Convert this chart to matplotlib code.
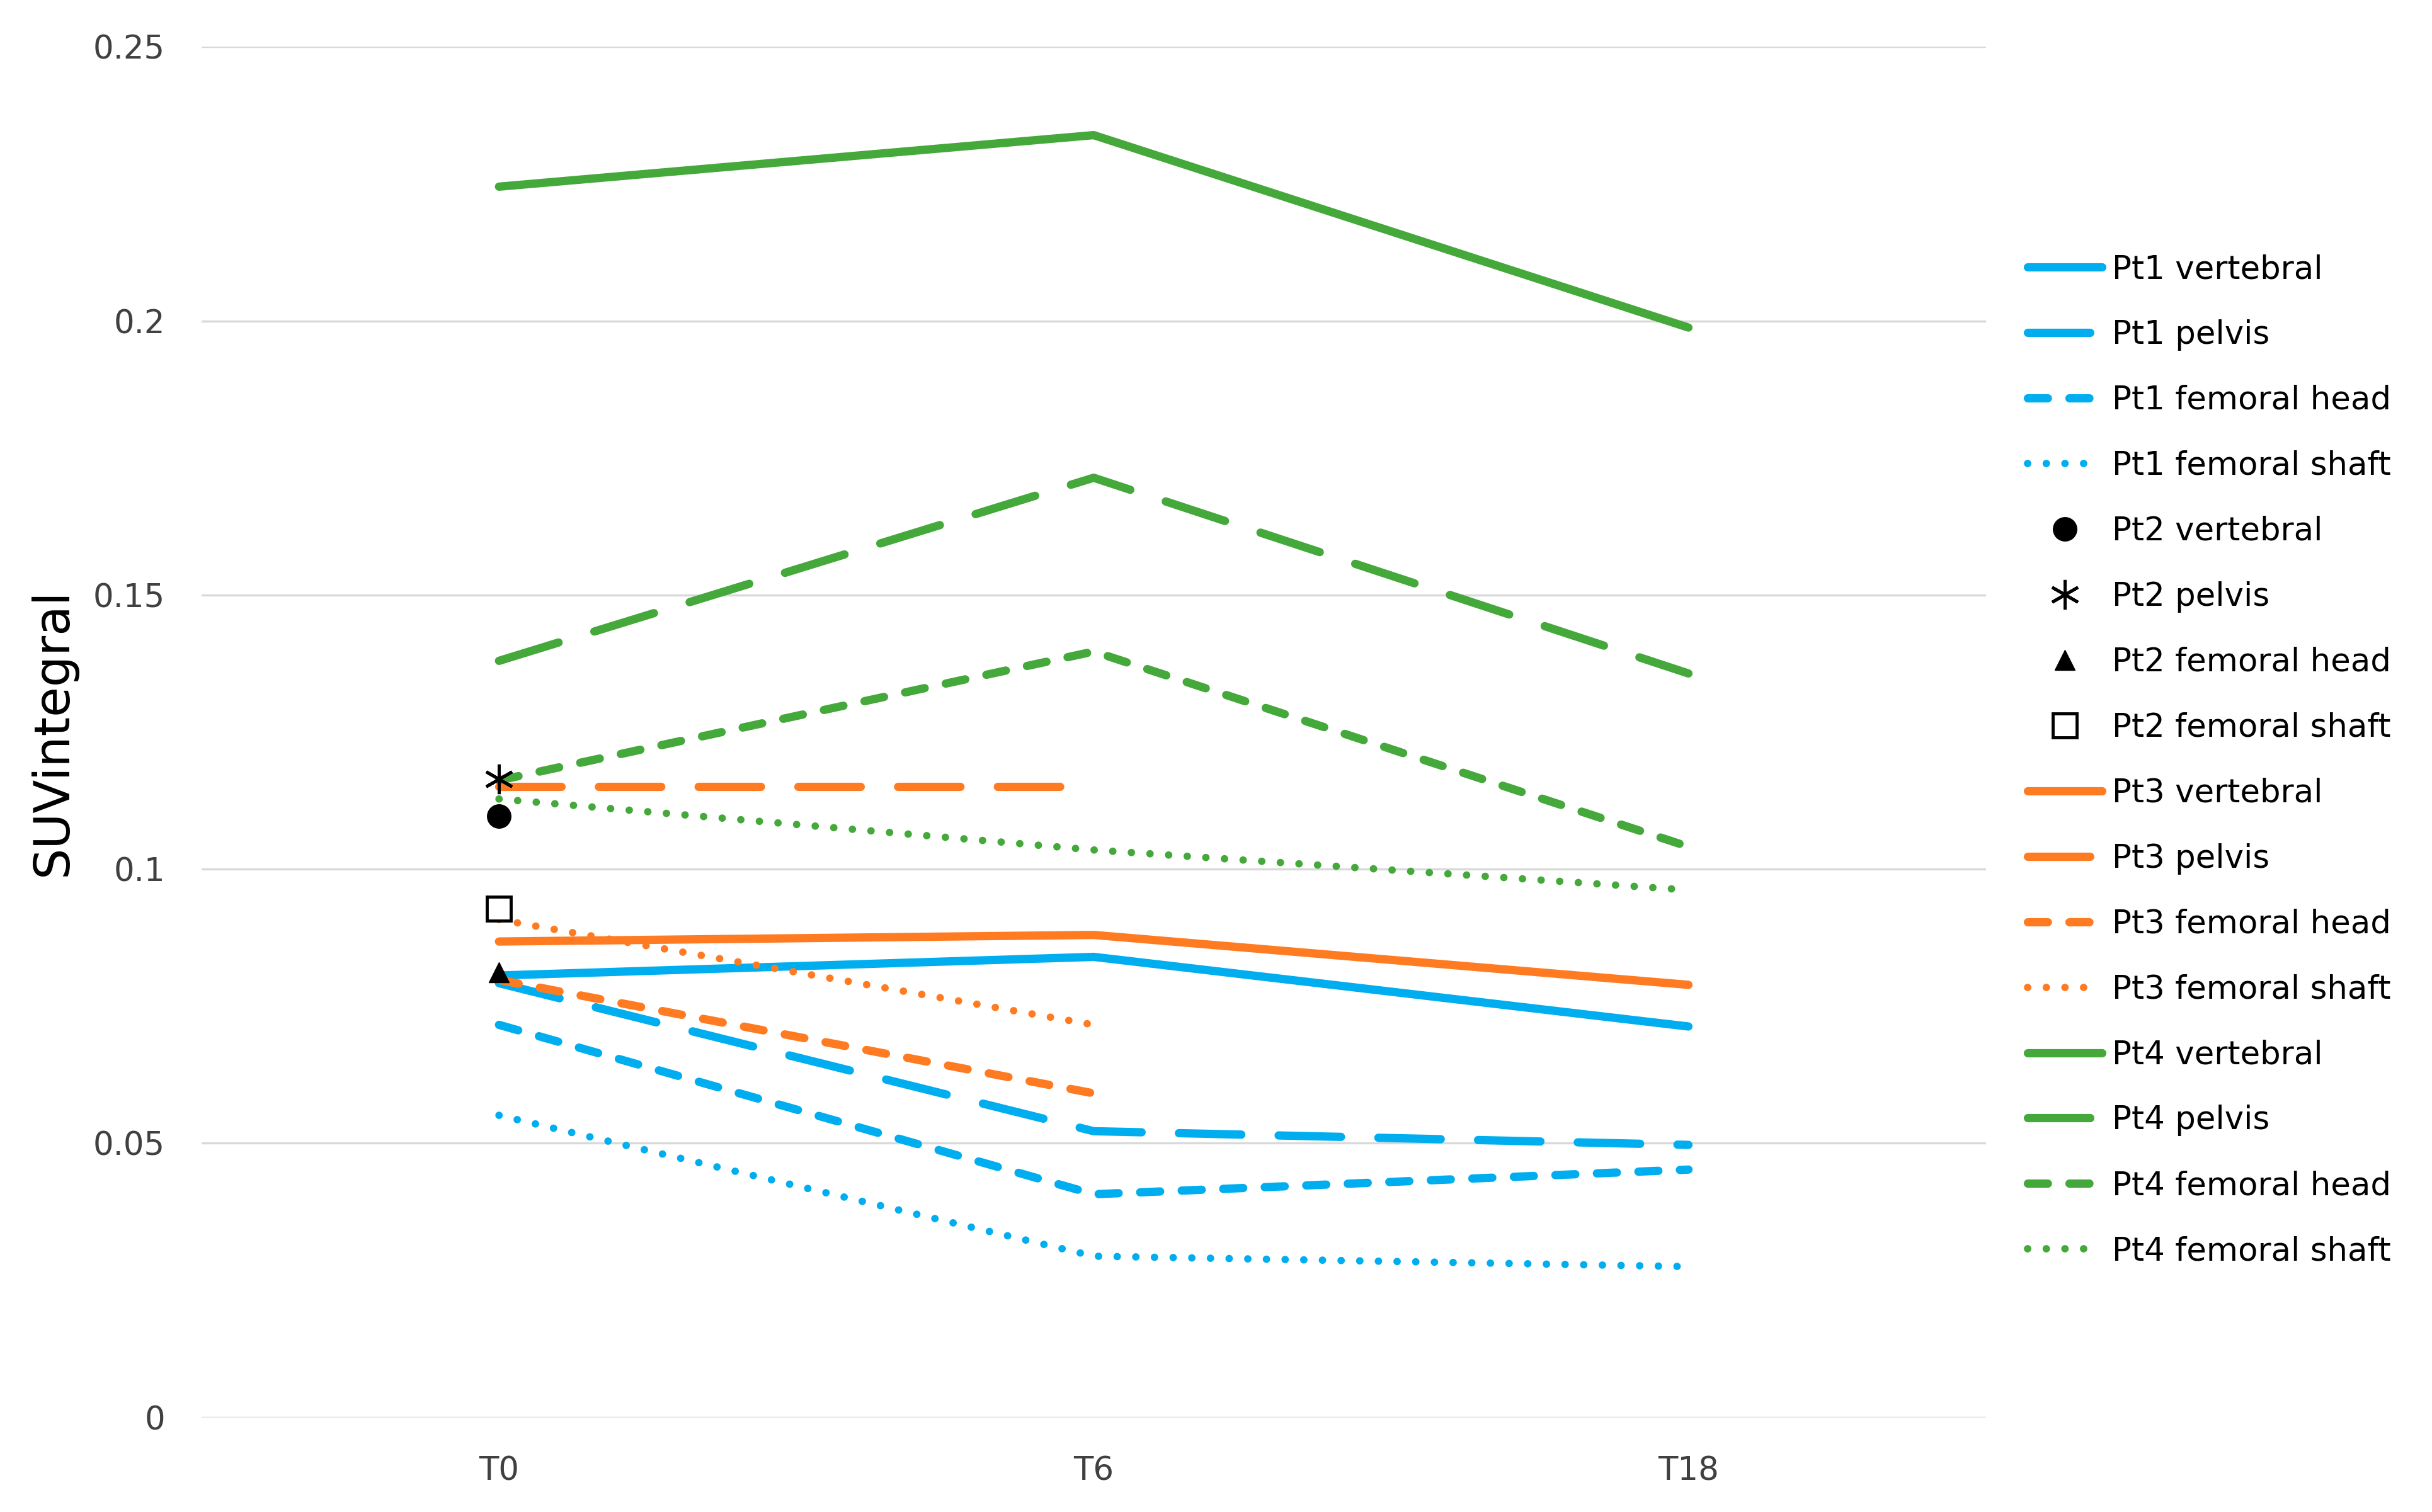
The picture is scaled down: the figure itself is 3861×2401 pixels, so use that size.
import numpy as np
import matplotlib.pyplot as plt

times = ['T0', 'T6', 'T18']
nan = np.nan

# SUVintegral per patient / site
pt1_vertebral = [0.0806, 0.0840, 0.0713]
pt1_pelvis = [0.0792, 0.0522, 0.0497]
pt1_femoral_head = [0.0716, 0.0407, 0.0452]
pt1_femoral_shaft = [0.0551, 0.0294, 0.0275]

pt2_vertebral = [0.1097, nan, nan]
pt2_pelvis = [0.1165, nan, nan]
pt2_femoral_head = [0.0812, nan, nan]
pt2_femoral_shaft = [0.0928, nan, nan]

pt3_vertebral = [0.0868, 0.0880, 0.0789]
pt3_pelvis = [0.1151, 0.1151, nan]
pt3_femoral_head = [0.0798, 0.0591, nan]
pt3_femoral_shaft = [0.0908, 0.0716, nan]

pt4_vertebral = [0.2245, 0.2339, 0.1988]
pt4_pelvis = [0.1380, 0.1714, 0.1357]
pt4_femoral_head = [0.1162, 0.1397, 0.1041]
pt4_femoral_shaft = [0.1128, 0.1035, 0.0962]

blue = '#00AEEF'
orange = '#FF7B22'
green = '#44A83A'

solid = (0, ())
longdash = (0, (7.5, 4.5))
dash = (0, (2.4, 2.6))
dot = (0, (0.01, 2.5))

plt.rcParams['font.family'] = 'DejaVu Sans'

fig = plt.figure(figsize=(38.62, 24.01), dpi=100)
ax = fig.add_axes([0.0829, 0.0626, 0.7334, 0.9064])

x = np.arange(len(times))
handles = []

def line(vals, color, ls, label):
    lw = 8.5 if ls is dot else 9.5
    h, = ax.plot(x, vals, color=color, linestyle=ls, linewidth=lw,
                 dash_capstyle='round', solid_capstyle='round', label=label)
    handles.append(h)

line(pt1_vertebral, blue, solid, 'Pt1 vertebral')
line(pt1_pelvis, blue, longdash, 'Pt1 pelvis')
line(pt1_femoral_head, blue, dash, 'Pt1 femoral head')
line(pt1_femoral_shaft, blue, dot, 'Pt1 femoral shaft')

line(pt3_vertebral, orange, solid, 'Pt3 vertebral')
line(pt3_pelvis, orange, longdash, 'Pt3 pelvis')
line(pt3_femoral_head, orange, dash, 'Pt3 femoral head')
line(pt3_femoral_shaft, orange, dot, 'Pt3 femoral shaft')

line(pt4_vertebral, green, solid, 'Pt4 vertebral')
line(pt4_pelvis, green, longdash, 'Pt4 pelvis')
line(pt4_femoral_head, green, dash, 'Pt4 femoral head')
line(pt4_femoral_shaft, green, dot, 'Pt4 femoral shaft')

# Pt2 only has a baseline measurement
m1, = ax.plot(x, pt2_vertebral, 'o', color='black', markersize=27, linestyle='none', label='Pt2 vertebral')
m2, = ax.plot(x, pt2_pelvis, marker=(6, 2, 0), color='black', markersize=34, markeredgewidth=3.5,
              linestyle='none', label='Pt2 pelvis')
m3, = ax.plot(x, pt2_femoral_head, '^', color='black', markersize=23, linestyle='none', label='Pt2 femoral head')
m4, = ax.plot(x, pt2_femoral_shaft, 's', markerfacecolor='white', markeredgecolor='black',
              markeredgewidth=3.5, markersize=28, linestyle='none', label='Pt2 femoral shaft')

order = handles[:4] + [m1, m2, m3, m4] + handles[4:]

ax.set_xlim(-0.5, 2.5)
ax.set_ylim(0, 0.25)
ax.set_xticks(x)
ax.set_xticklabels(times)
ax.set_yticks([0, 0.05, 0.1, 0.15, 0.2, 0.25])
ax.set_yticklabels(['0', '0.05', '0.1', '0.15', '0.2', '0.25'])
ax.tick_params(axis='both', length=0, labelsize=37, colors='#404040')
ax.tick_params(axis='x', pad=44)
ax.tick_params(axis='y', pad=42)
ax.grid(axis='y', color='#D9D9D9', linewidth=2.5)
ax.set_axisbelow(True)
for s in ax.spines.values():
    s.set_visible(False)

fig.text(84 / 3862, 0.516, 'SUVintegral', rotation=90, ha='center', va='center', fontsize=56)

leg = fig.legend(handles=order, loc='center left', bbox_to_anchor=(0.8335, 0.497),
                 frameon=False, fontsize=37, handlelength=2.3, handletextpad=0.3,
                 labelspacing=1.05, borderpad=0, borderaxespad=0, numpoints=1)

fig.savefig('out.png', dpi=100, facecolor='white')
